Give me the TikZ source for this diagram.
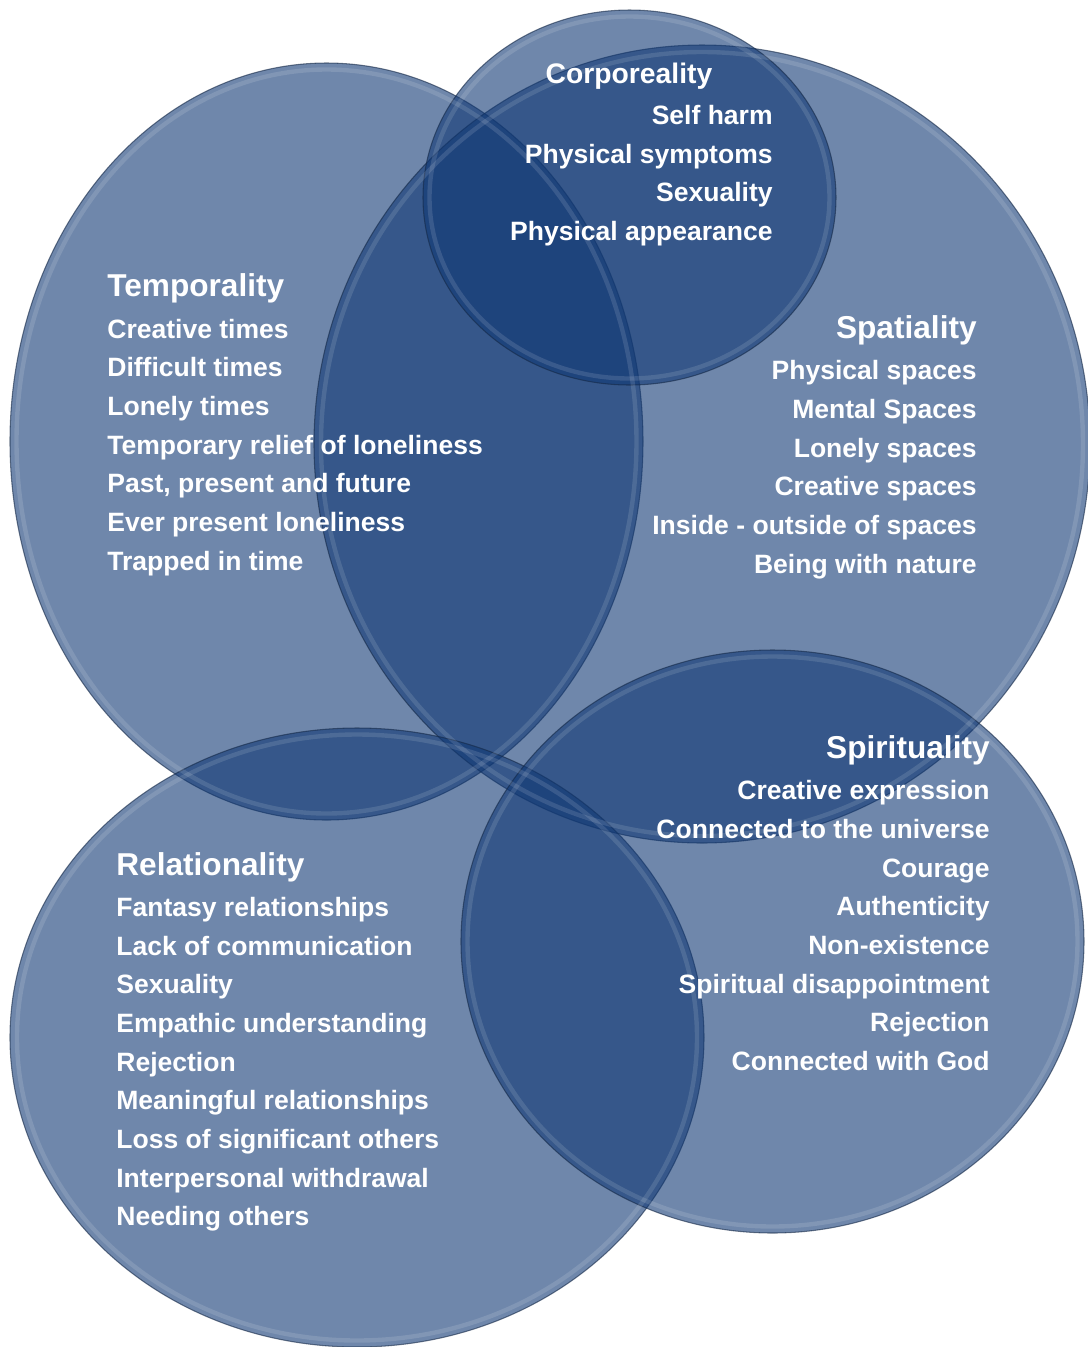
\documentclass[tikz,border=0pt]{standalone}
\usepackage{fontspec}
\setmainfont{Liberation Sans}
\usetikzlibrary{positioning}

\definecolor{bubblefill}{RGB}{15,55,115}
\definecolor{bubbleedge}{RGB}{20,40,70}

\begin{document}
\begin{tikzpicture}[x=0.02cm, y=-0.02cm,
    bubble/.style={fill=bubblefill, fill opacity=0.6, draw=bubbleedge, draw opacity=0.6, line width=0.6pt},
    rim/.style={draw=white, draw opacity=0.12, line width=2.5pt},
    title/.style={text=white, inner sep=0pt, font=\fontsize{18pt}{22pt}\selectfont\bfseries},
    items/.style={text=white, inner sep=0pt, font=\fontsize{15.1pt}{22pt}\selectfont\bfseries}]
        \useasboundingbox (0,0) rectangle (1088,1347);

        % the five circles
        \path[bubble] (326.5,441.5) ellipse [x radius=316.5, y radius=378.5];
        \path[bubble] (702,444) ellipse [x radius=388, y radius=399];
        \path[bubble] (629.5,197.5) ellipse [x radius=206.5, y radius=187.5];
        \path[bubble] (357,1037.5) ellipse [x radius=347, y radius=309.5];
        \path[bubble] (772.5,941.5) ellipse [x radius=311.5, y radius=291.5];

        \path[rim] (326.5,441.5) ellipse [x radius=310, y radius=372];
        \path[rim] (702,444) ellipse [x radius=381, y radius=392];
        \path[rim] (629.5,197.5) ellipse [x radius=200, y radius=181];
        \path[rim] (357,1037.5) ellipse [x radius=340, y radius=303];
        \path[rim] (772.5,941.5) ellipse [x radius=305, y radius=285];

        % titles
        \node[title, anchor=base, font=\fontsize{16.1pt}{22pt}\selectfont\bfseries] (corp) at (629,83.3) {Corporeality};
        \node[title, anchor=base west] (temp) at (107,296.7) {Temporality};
        \node[title, anchor=base east] (spat) at (977,338.3) {Spatiality};
        \node[title, anchor=base east] (spir) at (990,758.3) {Spirituality};
        \node[title, anchor=base west] (rela) at (116,875) {Relationality};

        % lists
        \node[items, align=right, anchor=north east] (corplist) at (773,105) {Self harm\\Physical symptoms\\Sexuality\\Physical appearance};
        \node[items, align=left, below=12.5pt of temp.base west, anchor=north west] (templist) {Creative times\\Difficult times\\Lonely times\\Temporary relief of loneliness\\Past, present and future\\Ever present loneliness\\Trapped in time};
        \node[items, align=right, below=12.5pt of spat.base east, anchor=north east] (spatlist) {Physical spaces\\Mental Spaces\\Lonely spaces\\Creative spaces\\Inside - outside of spaces\\Being with nature};
        \node[items, align=right, below=12.5pt of spir.base east, anchor=north east] (spirlist) {Creative expression\\Connected to the universe\\Courage\\Authenticity\\Non-existence\\Spiritual disappointment\\Rejection\\Connected with God};
        \node[items, align=left, below=12.5pt of rela.base west, anchor=north west] (relalist) {Fantasy relationships\\Lack of communication\\Sexuality\\Empathic understanding\\Rejection\\Meaningful relationships\\Loss of significant others\\Interpersonal withdrawal\\Needing others};
    \end{tikzpicture}
\end{document}
